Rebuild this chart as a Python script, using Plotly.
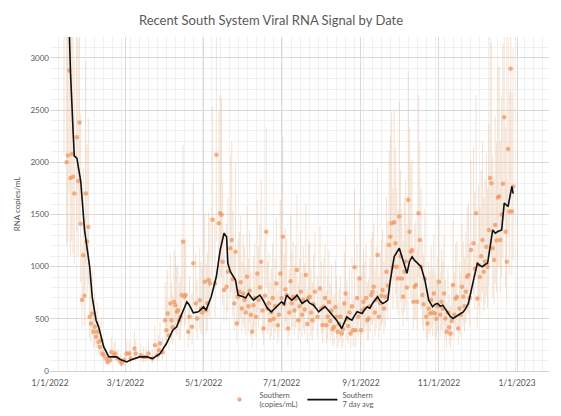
import plotly.graph_objects as go

# ---------------- data ----------------
sample_dates = [
    "2022-01-12", "2022-01-14", "2022-01-15", "2022-01-16", "2022-01-17", "2022-01-18", "2022-01-19", "2022-01-20",
    "2022-01-22", "2022-01-23", "2022-01-24", "2022-01-25", "2022-01-26", "2022-01-27", "2022-01-28", "2022-01-29",
    "2022-01-30", "2022-01-31",
    "2022-02-01", "2022-02-02", "2022-02-03", "2022-02-04", "2022-02-05", "2022-02-06", "2022-02-07", "2022-02-08",
    "2022-02-09", "2022-02-10", "2022-02-11", "2022-02-12", "2022-02-14", "2022-02-15", "2022-02-17", "2022-02-18",
    "2022-02-20", "2022-02-21", "2022-02-23", "2022-02-25", "2022-02-26", "2022-02-28",
    "2022-03-02", "2022-03-04", "2022-03-05", "2022-03-08", "2022-03-09", "2022-03-13", "2022-03-15", "2022-03-17",
    "2022-03-19", "2022-03-22", "2022-03-24", "2022-03-26", "2022-03-27", "2022-03-28", "2022-03-30",
    "2022-04-01", "2022-04-02", "2022-04-03", "2022-04-04", "2022-04-05", "2022-04-06", "2022-04-07", "2022-04-08",
    "2022-04-09", "2022-04-10", "2022-04-11", "2022-04-12", "2022-04-13", "2022-04-14", "2022-04-15", "2022-04-16",
    "2022-04-17", "2022-04-19", "2022-04-20", "2022-04-22", "2022-04-23", "2022-04-25", "2022-04-26", "2022-04-28",
    "2022-04-29", "2022-04-30",
    "2022-05-02", "2022-05-03", "2022-05-04", "2022-05-05", "2022-05-06", "2022-05-08", "2022-05-10", "2022-05-11",
    "2022-05-13", "2022-05-14", "2022-05-15", "2022-05-16", "2022-05-17", "2022-05-19", "2022-05-20", "2022-05-22",
    "2022-05-23", "2022-05-24", "2022-05-25", "2022-05-26", "2022-05-27", "2022-05-28", "2022-05-29", "2022-05-30",
    "2022-05-31",
    "2022-06-01", "2022-06-02", "2022-06-03", "2022-06-04", "2022-06-05", "2022-06-06", "2022-06-07", "2022-06-08",
    "2022-06-09", "2022-06-10", "2022-06-11", "2022-06-12", "2022-06-13", "2022-06-14", "2022-06-15", "2022-06-16",
    "2022-06-17", "2022-06-18", "2022-06-19", "2022-06-20", "2022-06-21", "2022-06-22", "2022-06-23", "2022-06-24",
    "2022-06-25", "2022-06-26", "2022-06-27", "2022-06-28", "2022-06-29", "2022-06-30",
    "2022-07-01", "2022-07-02", "2022-07-03", "2022-07-04", "2022-07-05", "2022-07-06", "2022-07-07", "2022-07-08",
    "2022-07-09", "2022-07-10", "2022-07-11", "2022-07-12", "2022-07-13", "2022-07-14", "2022-07-15", "2022-07-16",
    "2022-07-17", "2022-07-18", "2022-07-19", "2022-07-20", "2022-07-21", "2022-07-22", "2022-07-23", "2022-07-24",
    "2022-07-25", "2022-07-26", "2022-07-27", "2022-07-29", "2022-07-31",
    "2022-08-01", "2022-08-02", "2022-08-03", "2022-08-04", "2022-08-05", "2022-08-06", "2022-08-07", "2022-08-08",
    "2022-08-09", "2022-08-10", "2022-08-11", "2022-08-12", "2022-08-13", "2022-08-14", "2022-08-15", "2022-08-16",
    "2022-08-17", "2022-08-18", "2022-08-19", "2022-08-20", "2022-08-21", "2022-08-22", "2022-08-23", "2022-08-24",
    "2022-08-25", "2022-08-26", "2022-08-27", "2022-08-28", "2022-08-29", "2022-08-30", "2022-08-31",
    "2022-09-01", "2022-09-02", "2022-09-03", "2022-09-04", "2022-09-05", "2022-09-06", "2022-09-07", "2022-09-08",
    "2022-09-09", "2022-09-10", "2022-09-11", "2022-09-12", "2022-09-13", "2022-09-14", "2022-09-15", "2022-09-16",
    "2022-09-17", "2022-09-18", "2022-09-19", "2022-09-20", "2022-09-21", "2022-09-22", "2022-09-23", "2022-09-24",
    "2022-09-25", "2022-09-26", "2022-09-27", "2022-09-28", "2022-09-29", "2022-09-30",
    "2022-10-01", "2022-10-02", "2022-10-03", "2022-10-04", "2022-10-05", "2022-10-06", "2022-10-07", "2022-10-08",
    "2022-10-09", "2022-10-10", "2022-10-11", "2022-10-12", "2022-10-13", "2022-10-14", "2022-10-15", "2022-10-16",
    "2022-10-17", "2022-10-18", "2022-10-19", "2022-10-20", "2022-10-21", "2022-10-22", "2022-10-23", "2022-10-24",
    "2022-10-25", "2022-10-26", "2022-10-27", "2022-10-28", "2022-10-29", "2022-10-30", "2022-10-31",
    "2022-11-01", "2022-11-02", "2022-11-03", "2022-11-04", "2022-11-05", "2022-11-06", "2022-11-07", "2022-11-08",
    "2022-11-09", "2022-11-10", "2022-11-11", "2022-11-12", "2022-11-13", "2022-11-14", "2022-11-15", "2022-11-16",
    "2022-11-17", "2022-11-18", "2022-11-19", "2022-11-20", "2022-11-21", "2022-11-22", "2022-11-23", "2022-11-24",
    "2022-11-25", "2022-11-26", "2022-11-28", "2022-11-29", "2022-11-30",
    "2022-12-01", "2022-12-02", "2022-12-03", "2022-12-04", "2022-12-05", "2022-12-06", "2022-12-07", "2022-12-08",
    "2022-12-09", "2022-12-10", "2022-12-11", "2022-12-12", "2022-12-13", "2022-12-14", "2022-12-15", "2022-12-16",
    "2022-12-17", "2022-12-18", "2022-12-19", "2022-12-20", "2022-12-21", "2022-12-22", "2022-12-23", "2022-12-24",
    "2022-12-25", "2022-12-26", "2022-12-27", "2022-12-28", "2022-12-29",
]

sample_values = [
    3450, 2000, 2065, 2880, 1850, 2080, 1860, 1700,
    2240, 1820, 2380, 1410, 680, 1110, 720, 1700,
    1240, 1380,
    519, 455, 551, 375, 423, 327, 375, 279,
    231, 295, 167, 151, 120, 87, 103, 183,
    151, 167, 120, 95, 71, 103,
    167, 167, 119, 215, 167, 151, 135, 135,
    167, 120, 247, 150, 199, 263, 180,
    487, 391, 551, 340, 647, 487, 420, 663,
    631, 567, 583, 487, 519, 727, 1239, 711,
    727, 375, 519, 423, 1032, 647, 503, 679,
    600, 560,
    855, 583, 650, 871, 839, 1448, 839, 2072,
    1416, 1512, 1496, 1047, 775, 807, 950, 1176,
    1256, 880, 647, 1143, 455, 711, 760, 850,
    600,
    743, 680, 560, 903, 620, 770, 540, 375,
    631, 700, 520, 935, 680, 800, 1047, 580,
    407, 720, 1335, 599, 650, 487, 560, 700,
    500, 620, 839, 439, 540, 935,
    700, 1287, 640, 780, 727, 407, 560, 860,
    650, 711, 580, 690, 967, 487, 620, 760,
    540, 680, 590, 919, 450, 700, 711, 560,
    487, 640, 760, 520, 791,
    600, 440, 615, 700, 439, 520, 660, 480,
    580, 400, 423, 610, 519, 375, 450, 520,
    360, 400, 647, 743, 500, 430, 560, 359,
    620, 391, 993, 391, 700, 520, 887,
    391, 580, 663, 599, 700, 487, 503, 620,
    727, 760, 807, 560, 680, 1111, 519, 650,
    720, 775, 600, 711, 951, 820, 1207, 1287,
    1416, 1000, 1425, 1223, 999, 887,
    1480, 1100, 887, 711, 950, 1050, 800, 1640,
    1335, 1143, 1159, 663, 807, 823, 663, 1512,
    1256, 1000, 727, 640, 887, 519, 455, 600,
    551, 680, 560, 743, 551, 500, 620,
    855, 540, 663, 600, 743, 503, 375, 560,
    420, 359, 480, 823, 540, 695, 711, 407,
    600, 540, 807, 711, 620, 760, 903, 919,
    700, 1159, 1223, 980, 1512,
    695, 1015, 900, 1100, 1256, 950, 1050, 1191,
    1000, 1352, 1848, 1800, 1176, 1063, 1400, 1250,
    1662, 1672, 1256, 1500, 1793, 2430, 1335, 1047,
    2127, 1528, 2895, 1528, 1768,
]

avg_dates = [
    "2022-01-15", "2022-01-16", "2022-01-17", "2022-01-19", "2022-01-20", "2022-01-22", "2022-01-25", "2022-01-28",
    "2022-02-01", "2022-02-03", "2022-02-06", "2022-02-08", "2022-02-12", "2022-02-16", "2022-02-22", "2022-02-25",
    "2022-03-02", "2022-03-05", "2022-03-09", "2022-03-12", "2022-03-18", "2022-03-22", "2022-03-28",
    "2022-04-02", "2022-04-07", "2022-04-10", "2022-04-12", "2022-04-15", "2022-04-18", "2022-04-20", "2022-04-23",
    "2022-04-27", "2022-05-01", "2022-05-03", "2022-05-07", "2022-05-11", "2022-05-14", "2022-05-17", "2022-05-19",
    "2022-05-20", "2022-05-22", "2022-05-26", "2022-05-28", "2022-06-01", "2022-06-03", "2022-06-05", "2022-06-07",
    "2022-06-09", "2022-06-11", "2022-06-14", "2022-06-16", "2022-06-18", "2022-06-20", "2022-06-23", "2022-06-25",
    "2022-06-27", "2022-07-01", "2022-07-03", "2022-07-05", "2022-07-07", "2022-07-09", "2022-07-11", "2022-07-13",
    "2022-07-15", "2022-07-17", "2022-07-19", "2022-07-21", "2022-07-23", "2022-07-26", "2022-07-28", "2022-07-30",
    "2022-08-02", "2022-08-04", "2022-08-06", "2022-08-08", "2022-08-10", "2022-08-13", "2022-08-17", "2022-08-19",
    "2022-08-21", "2022-08-23", "2022-08-25", "2022-08-27", "2022-08-29", "2022-09-02", "2022-09-04", "2022-09-06",
    "2022-09-08", "2022-09-10", "2022-09-12", "2022-09-14", "2022-09-16", "2022-09-18", "2022-09-20", "2022-09-22",
    "2022-09-24", "2022-09-27", "2022-10-01", "2022-10-04", "2022-10-07", "2022-10-09", "2022-10-11", "2022-10-13",
    "2022-10-15", "2022-10-18", "2022-10-21", "2022-10-24", "2022-10-27", "2022-10-29", "2022-10-31", "2022-11-02",
    "2022-11-04", "2022-11-06", "2022-11-08", "2022-11-10", "2022-11-12", "2022-11-14", "2022-11-16", "2022-11-18",
    "2022-11-20", "2022-11-22", "2022-11-24", "2022-11-28", "2022-12-01", "2022-12-03", "2022-12-05", "2022-12-07",
    "2022-12-09", "2022-12-13", "2022-12-15", "2022-12-17", "2022-12-20", "2022-12-22", "2022-12-25", "2022-12-28",
    "2022-12-29",
]
avg_values = [
    3700, 3300, 2870, 2310, 2060, 2040, 1820, 1350,
    1000, 711, 487, 423, 231, 135, 135, 110,
    87, 105, 125, 135, 135, 119, 167,
    263, 391, 423, 487, 583, 663, 631, 557,
    567, 615, 583, 711, 903, 1159, 1320, 1287,
    1032, 951, 871, 727, 711, 700, 743, 705,
    679, 700, 727, 690, 647, 600, 567, 590,
    615, 663, 640, 727, 700, 679, 700, 727,
    690, 647, 665, 679, 650, 631, 600, 567,
    600, 615, 590, 560, 530, 487, 407, 470,
    519, 500, 487, 530, 567, 551, 590, 615,
    600, 647, 680, 711, 670, 647, 660, 679,
    871, 1095, 1176, 1063, 936, 1050, 1095, 1060,
    1032, 999, 871, 679, 615, 640, 647, 620,
    631, 590, 551, 520, 503, 520, 535, 550,
    567, 600, 647, 871, 1032, 1010, 999, 1020,
    1032, 1352, 1320, 1336, 1352, 1608, 1576, 1768,
    1700,
]

x_tick_dates = ["2022-01-01", "2022-03-01", "2022-05-01", "2022-07-01", "2022-09-01", "2022-11-01", "2023-01-01"]
x_tick_labels = ["1/1/2022", "3/1/2022", "5/1/2022", "7/1/2022", "9/1/2022", "11/1/2022", "1/1/2023"]
y_tick_vals = [0, 500, 1000, 1500, 2000, 2500, 3000]

FONT = "Lato"
GREY = "#595959"

fig = go.Figure()

# error bars (drawn underneath the markers)
fig.add_trace(go.Scatter(
    x=sample_dates, y=sample_values, mode="markers",
    marker=dict(size=5, color="rgba(0,0,0,0)"),
    error_y=dict(type="percent", symmetric=False, value=75, valueminus=40,
                 color="rgba(232,190,155,0.45)", thickness=1, width=0),
    showlegend=False, hoverinfo="skip",
))

fig.add_trace(go.Scatter(
    x=sample_dates, y=sample_values, mode="markers",
    name="Southern<br>(copies/mL)",
    marker=dict(size=4.5, color="rgba(240,150,95,0.75)", line=dict(width=0)),
))

fig.add_trace(go.Scatter(
    x=avg_dates, y=avg_values, mode="lines",
    name="Southern<br>7 day avg",
    line=dict(color="#111111", width=1.6),
))

fig.update_layout(
    width=561, height=416,
    margin=dict(l=50, r=12, t=37, b=45, autoexpand=False),
    paper_bgcolor="white", plot_bgcolor="white",
    font=dict(family=FONT, color=GREY, size=8),
    title=dict(text="Recent South System Viral RNA Signal by Date",
               x=0.483, xanchor="center", y=0.952, yanchor="middle",
               font=dict(family=FONT, size=13, color=GREY)),
    showlegend=True,
    legend=dict(orientation="h", x=0.5, xanchor="center", y=-0.037, yanchor="top",
                font=dict(family=FONT, size=7.5, color=GREY),
                itemwidth=30, tracegroupgap=0, bgcolor="rgba(0,0,0,0)"),
)

fig.update_xaxes(
    type="date", range=["2022-01-01", "2023-01-26"],
    tickvals=x_tick_dates, ticktext=x_tick_labels,
    tickfont=dict(family=FONT, size=8.5, color=GREY),
    showgrid=True, gridcolor="#d9d9d9", gridwidth=1,
    minor=dict(dtick=7 * 86400000, tick0="2022-01-01", showgrid=True, gridcolor="#f0f0f0", gridwidth=1),
    showline=True, linecolor="#d0d0d0", linewidth=1,
    zeroline=False, ticks="", ticklabelstandoff=4,
)

fig.update_yaxes(
    range=[0, 3200], tickvals=y_tick_vals,
    tickfont=dict(family=FONT, size=8, color=GREY),
    title=dict(text="RNA copies/mL", font=dict(family=FONT, size=8, color=GREY), standoff=8),
    showgrid=True, gridcolor="#d9d9d9", gridwidth=1,
    minor=dict(dtick=100, showgrid=True, gridcolor="#f0f0f0", gridwidth=1),
    zeroline=False, showline=False, ticks="",
)

fig.write_html("out.html")
